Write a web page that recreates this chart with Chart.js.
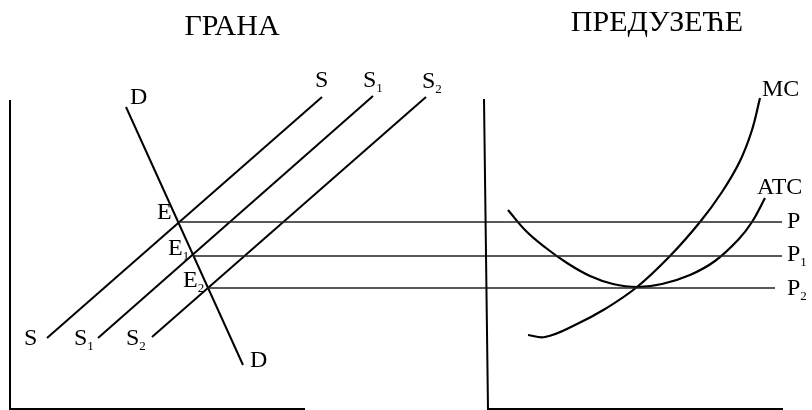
<!DOCTYPE html>
<html>
<head>
<meta charset="utf-8">
<script src="https://cdn.jsdelivr.net/npm/chart.js@4/dist/chart.umd.min.js"></script>
<style>
  html, body { margin: 0; padding: 0; background: #fff; }
  #wrap { width: 812px; height: 410px; }
</style>
</head>
<body>
<div id="wrap"><canvas id="c" width="812" height="410"></canvas></div>
<script>
// diagram values (x = quantity units, y = price units, y grows downward)
const supplyS  = [{ x: 47, y: 338 }, { x: 322, y: 97 }];
const supplyS1 = [{ x: 98, y: 338 }, { x: 373, y: 96 }];
const supplyS2 = [{ x: 152, y: 337 }, { x: 426, y: 97 }];
const demandD  = [{ x: 126, y: 107 }, { x: 243, y: 365 }];

const priceP  = [{ x: 178, y: 222 }, { x: 782, y: 222 }];
const priceP1 = [{ x: 193, y: 256 }, { x: 782, y: 256 }];
const priceP2 = [{ x: 207, y: 288 }, { x: 775, y: 288 }];

const curveMC = [
  { x: 528, y: 335 }, { x: 545, y: 337 }, { x: 575, y: 325 }, { x: 605, y: 309 },
  { x: 637, y: 287 }, { x: 670, y: 256 }, { x: 700, y: 222 }, { x: 722, y: 192 },
  { x: 740, y: 161 }, { x: 752, y: 130 }, { x: 760, y: 98 }
];
const curveATC = [
  { x: 508, y: 210 }, { x: 526, y: 231 }, { x: 546, y: 248 }, { x: 567, y: 263 },
  { x: 590, y: 276 }, { x: 613, y: 284 }, { x: 637, y: 287 }, { x: 662, y: 284 },
  { x: 690, y: 275 }, { x: 715, y: 261 }, { x: 738, y: 240 }, { x: 752, y: 222 },
  { x: 765, y: 198 }
];

const axisLeft   = [{ x: 10, y: 100 }, { x: 10, y: 409 }, { x: 305, y: 409 }];
const axisRight  = [{ x: 484, y: 99 }, { x: 488, y: 409 }, { x: 783, y: 409 }];

const titles = [
  { text: 'ГРАНА', x: 232, y: 27 },
  { text: 'ПРЕДУЗЕЋЕ', x: 657, y: 23 }
];
const labels = [
  { t: 'D', x: 130, y: 98 }, { t: 'D', x: 250, y: 361 },
  { t: 'S', x: 315, y: 81 }, { t: 'S', s: '1', x: 363, y: 81 }, { t: 'S', s: '2', x: 422, y: 82 },
  { t: 'S', x: 24, y: 339 }, { t: 'S', s: '1', x: 74, y: 339 }, { t: 'S', s: '2', x: 126, y: 339 },
  { t: 'E', x: 157, y: 213 }, { t: 'E', s: '1', x: 168, y: 249 }, { t: 'E', s: '2', x: 183, y: 281 },
  { t: 'P', x: 787, y: 222 }, { t: 'P', s: '1', x: 787, y: 255 }, { t: 'P', s: '2', x: 787, y: 289 },
  { t: 'MC', x: 762, y: 90 }, { t: 'ATC', x: 757, y: 188 }
];

const FONT = '"Liberation Serif", "DejaVu Serif", serif';

const line = (data, width, color, tension) => ({
  data, showLine: true, borderColor: color || '#000', borderWidth: width || 2,
  pointRadius: 0, fill: false, clip: false, tension: tension || 0
});

const textPlugin = {
  id: 'texts',
  afterDatasetsDraw(chart) {
    const { ctx, scales } = chart;
    ctx.save();
    ctx.fillStyle = '#000';
    ctx.textBaseline = 'middle';
    ctx.textAlign = 'center';
    ctx.font = '30px ' + FONT;
    titles.forEach(t => ctx.fillText(t.text, scales.x.getPixelForValue(t.x), scales.y.getPixelForValue(t.y)));
    ctx.textAlign = 'left';
    labels.forEach(l => {
      const px = scales.x.getPixelForValue(l.x);
      const py = scales.y.getPixelForValue(l.y);
      ctx.font = '24px ' + FONT;
      ctx.fillText(l.t, px, py);
      if (l.s) {
        const w = ctx.measureText(l.t).width;
        ctx.font = '13px ' + FONT;
        ctx.fillText(l.s, px + w, py + 8);
      }
    });
    ctx.restore();
  }
};

new Chart(document.getElementById('c'), {
  type: 'scatter',
  data: {
    datasets: [
      line(axisLeft, 2),
      line(axisRight, 2),
      line(priceP, 1.5, '#222'),
      line(priceP1, 1.5, '#222'),
      line(priceP2, 1.5, '#222'),
      line(supplyS, 2),
      line(supplyS1, 2),
      line(supplyS2, 2),
      line(demandD, 2),
      line(curveATC, 2.2, '#000', 0.4),
      line(curveMC, 2.2, '#000', 0.4)
    ]
  },
  options: {
    responsive: false,
    animation: false,
    layout: { padding: 0 },
    plugins: { legend: { display: false }, tooltip: { enabled: false } },
    scales: {
      x: { type: 'linear', min: 0, max: 812, display: false },
      y: { type: 'linear', min: 0, max: 410, reverse: true, display: false }
    }
  },
  plugins: [textPlugin]
});
</script>
</body>
</html>
